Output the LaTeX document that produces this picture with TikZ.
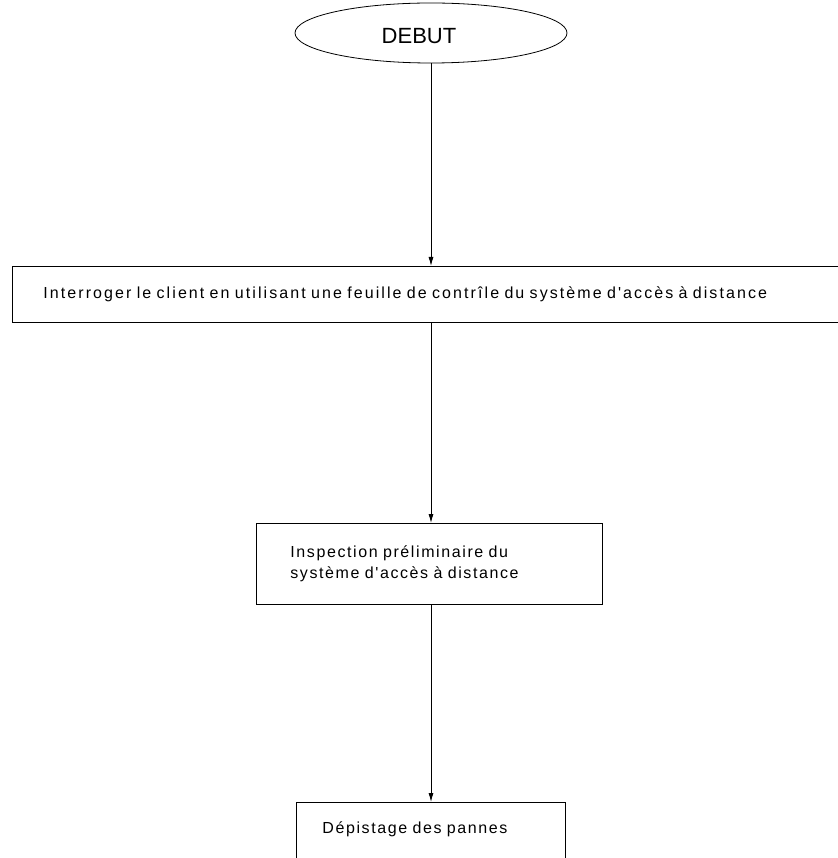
\documentclass[tikz,border=0pt]{standalone}
\usepackage{fontspec}
\setmainfont{Liberation Sans}
\newfontfamily\boxfont[LetterSpace=10]{Liberation Sans}
\newfontfamily\widefont[LetterSpace=13]{Liberation Sans}
\usetikzlibrary{arrows.meta,positioning,shapes.geometric}

\begin{document}
\begin{tikzpicture}[
  x=1pt,y=1pt,
  box/.style={draw,line width=0.8pt,anchor=north west,minimum width=#1,
              align=left,font=\boxfont\fontsize{16}{21}\selectfont},
  arr/.style={-{Latex[length=9pt,width=5pt]},line width=0.8pt}
]
\useasboundingbox (0,0) rectangle (837,-858);

\node[draw,ellipse,line width=0.8pt,minimum width=272,minimum height=60] (debut) at (431,-33) {};
\node[font=\fontsize{22}{26}\selectfont] (debuttxt) at (419,-36) {DEBUT};
\node[box=829,minimum height=56,inner xsep=31pt,text width=767pt,
      font=\widefont\fontsize{16}{21}\selectfont] (interr) at (12,-266)
  {Interroger le client en utilisant une feuille de contrîle du système d'accès à distance};
\node[box=346,minimum height=81,inner xsep=34pt,text width=278pt] (inspect) at (256,-523)
  {Inspection préliminaire du\\système d'accès à distance};
\node[box=269,inner xsep=26pt,inner ysep=20pt,text width=217pt,
      text height=11pt,text depth=50pt] (depist) at (296,-802)
  {Dépistage des pannes};

\draw[arr] (debut.south) -- (debut.south |- interr.north);
\draw[arr] (debut.south |- interr.south) -- (debut.south |- inspect.north);
\draw[arr] (debut.south |- inspect.south) -- (debut.south |- depist.north);
\end{tikzpicture}
\end{document}
